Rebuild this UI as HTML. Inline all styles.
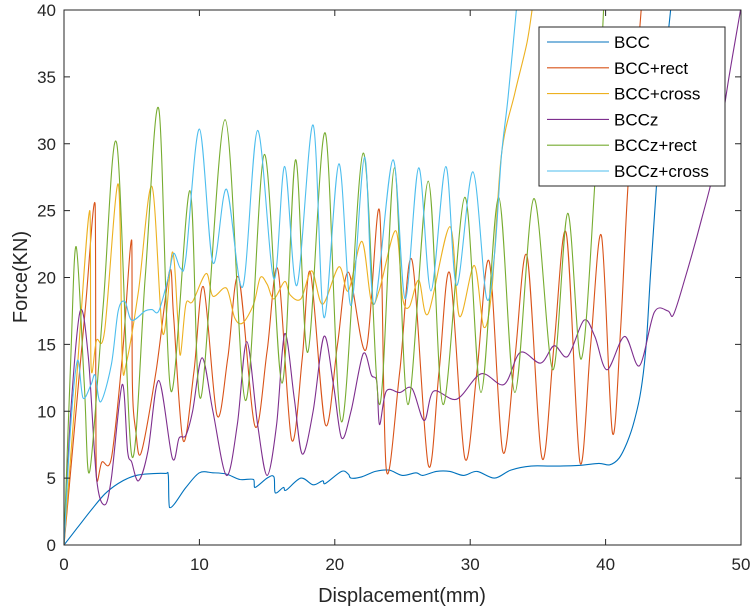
<!DOCTYPE html>
<html><head><meta charset="utf-8">
<style>
html,body{margin:0;padding:0;background:#fff;}
svg{display:block;font-family:"Liberation Sans",Arial,sans-serif;}
</style></head>
<body>
<svg id="s" width="755" height="612" viewBox="0 0 755 612" xmlns="http://www.w3.org/2000/svg">
<defs><clipPath id="c"><rect x="64" y="10" width="677" height="535"/></clipPath></defs>
<rect width="755" height="612" fill="#fff"/>
<g id="series" clip-path="url(#c)" fill="none" stroke-width="1.1"></g>
<rect x="64" y="10" width="677" height="535" fill="none" stroke="#262626" stroke-width="1"/>
<g id="ticks" stroke="#262626" stroke-width="1"></g>
<g id="labels" fill="#262626" font-size="17"></g>
<text x="402" y="602" font-size="20" fill="#262626" text-anchor="middle">Displacement(mm)</text>
<text transform="translate(27,277) rotate(-90)" font-size="20" fill="#262626" text-anchor="middle">Force(KN)</text>
<rect x="539" y="27" width="186" height="159" fill="#fff" stroke="#262626" stroke-width="1"/>
<g id="legend" font-size="17" fill="#000"></g>
</svg>
<script>
var X=function(x){return 64+x*13.54},Y=function(y){return 545-y*13.375};
var ns="http://www.w3.org/2000/svg";
function el(t,a,p,txt){var e=document.createElementNS(ns,t);for(var k in a)e.setAttribute(k,a[k]);if(txt!==undefined)e.textContent=txt;p.appendChild(e);return e;}
var tk=document.getElementById('ticks'),lb=document.getElementById('labels');
for(var i=0;i<=5;i++){var x=X(i*10);el('line',{x1:x,x2:x,y1:545,y2:539},tk);el('line',{x1:x,x2:x,y1:10,y2:16},tk);
 el('text',{x:x,y:570,'text-anchor':'middle'},lb,String(i*10));}
for(var i=0;i<=8;i++){var y=Y(i*5);el('line',{x1:64,x2:70,y1:y,y2:y},tk);el('line',{x1:741,x2:735,y1:y,y2:y},tk);
 el('text',{x:56,y:y+6,'text-anchor':'end'},lb,String(i*5));}
var S=[
["#0072BD","BCC",[[0,0],[1,1.3],[2,2.6],[3,3.8],[4,4.6],[5,5.1],[6,5.3],[7.5,5.35],[7.7,5.2],[7.8,2.8],[9,4.3],[10,5.4],[11,5.4],[12,5.3],[13,4.9],[14,4.9],[14.1,4.3],[15,5.0],[15.5,5.1],[15.6,3.9],[16.2,4.3],[16.4,4.1],[17.5,5.0],[18.4,4.5],[19.1,4.8],[19.3,4.6],[20.5,5.5],[21,5.3],[21.2,5.0],[22,5.1],[23,5.5],[24,5.6],[25,5.2],[26,5.4],[26.5,5.2],[27.5,5.5],[28.5,5.5],[29.5,5.2],[30.5,5.5],[31.8,5.0],[33,5.6],[34.5,5.9],[36,5.9],[38,5.95],[39.5,6.1],[40.3,6.0],[41,6.5],[41.6,7.7],[42.1,9.2],[42.6,11.5],[43,15],[43.3,20],[43.7,26],[44.1,32],[44.5,37],[44.9,41],[45.2,45]]],
["#D95319","BCC+rect",[[0,0],[0.8,9],[1.6,18],[2.3,25.5],[2.35,12],[2.4,5],[2.8,6.2],[3.5,6.5],[4.3,14],[5,22.8],[5.05,12],[5.3,8.5],[5.7,6.9],[6.8,13],[7.8,20.5],[8.1,17],[8.8,7.8],[9.6,13],[10.3,19.3],[11.3,9.7],[12.1,14],[12.9,20],[14.1,8.9],[15,14.5],[15.8,20.6],[16.8,7.9],[17.6,14],[18.2,20.4],[19.3,9],[20.2,15],[21,20.4],[22.3,14.6],[23.3,25],[23.8,5.65],[24.8,13],[25.7,21.3],[26.9,6],[27.7,13],[28.5,20.3],[29.6,6.5],[30.5,13],[31.4,21.2],[32.4,7],[33.3,14],[34.2,21.6],[35.3,6.5],[36.2,15],[37.1,23.3],[38.1,6.2],[38.9,15],[39.7,23.1],[40.5,8.4],[41.1,16],[41.6,26],[42.1,33],[42.7,41]]],
["#EDB120","BCC+cross",[[0,0],[0.9,12],[1.9,25],[2.0,13.3],[2.4,15.3],[3,16],[4,27],[4.3,14],[4.6,13.6],[5.5,19],[6.5,26.8],[7.3,15.8],[8,21.9],[8.4,17],[8.6,14.2],[9,18],[9.5,18.2],[10.5,20.3],[11,18.6],[12,19.2],[12.6,17],[13.2,16.6],[14,18],[14.5,20],[15,19.5],[15.5,18.4],[16.3,19.7],[16.7,18.7],[17.5,18.4],[18.3,20.5],[19.1,18],[20.3,20.8],[21,19],[22,22.7],[22.7,18.2],[23.3,19.1],[24.5,23.5],[25,18.5],[25.5,17.8],[26.2,19.8],[26.9,17.3],[28.5,23.8],[29.2,17.1],[30.3,20.9],[31,16.3],[31.6,19.1],[32.3,29.1],[33.3,33.8],[34.2,37.6],[34.7,41]]],
["#7E2F8E","BCCz",[[0,0],[0.5,10],[1.2,17.5],[1.8,14],[2.4,5],[3,3],[3.5,5],[4.3,12],[4.7,7],[5,6.2],[5.5,4.8],[6.2,7],[7,12.3],[8,6.5],[8.5,8],[9,8.2],[9.5,10],[10.2,14],[11,10],[12,5.2],[12.8,9],[13.5,15.2],[14.3,9],[15,5.2],[15.7,9],[16.3,15.8],[17,11],[17.6,6.8],[18.4,10],[19.2,15.6],[19.9,12],[20.5,8],[21.2,10],[22.1,14.3],[22.7,12.7],[23.1,12.2],[23.3,9],[23.8,11.5],[24.8,11.4],[25.7,11.7],[26.6,9.3],[27.3,11.5],[29,10.9],[30.8,12.8],[32.5,12],[33.7,14.4],[35.2,13.6],[36.2,14.9],[37.2,14.1],[38.4,16.8],[39.2,15.6],[40.1,13.1],[41.4,15.6],[42.5,13.4],[43.6,17.4],[44.6,17.5],[45,17.2],[45.8,19.7],[47.1,24.4],[48.1,28.5],[49.1,34.9],[50,40.2]]],
["#77AC30","BCCz+rect",[[0,0],[0.5,14],[0.9,22.3],[1.5,12],[1.9,5.5],[2.9,18],[3.9,30],[5,6.7],[6,20],[7,32.6],[7.9,11.5],[9.3,26.5],[10.1,11],[11.9,31.8],[13.4,10.8],[14.8,29.2],[16.1,12.1],[17.1,28.8],[18,14.4],[19.3,30.8],[20.5,9.2],[22.1,29.3],[23.3,10.5],[24.4,28.2],[25.4,10.5],[26.9,27.2],[28,10.5],[29.6,26],[30.8,11.4],[32.1,26],[33.3,11.4],[34.7,25.9],[36.1,13.1],[37.2,24.8],[38.2,13.9],[39.2,27],[39.9,41]]],
["#4DBEEE","BCCz+cross",[[0,0],[0.5,9],[1,13.8],[1.4,11],[2,12],[2.3,12.7],[2.7,10.7],[3.5,13.5],[4,17.5],[4.5,18.2],[5,16.8],[6,17.5],[6.5,17.6],[7,17.5],[7.7,20],[8.1,21.8],[8.6,20.7],[9,21.5],[10,31.1],[11,21.1],[12,26.6],[13.2,19.3],[14.3,31],[15.5,19.9],[16.3,28.3],[17.2,19.4],[18.4,31.4],[19.2,17],[20.3,28.5],[21.2,17.9],[22.2,29],[22.9,18],[24.3,28.8],[25.2,18.4],[26.2,28.2],[27.1,19],[28.2,28.3],[29,19.4],[30.2,27.9],[31.2,18.5],[31.8,21.8],[32.3,29],[32.8,33.5],[33.5,41]]]
];
var g=document.getElementById('series');
function path(p){p=p.map(function(q){return [X(q[0]),Y(q[1])]});var d="M"+p[0][0].toFixed(1)+","+p[0][1].toFixed(1);
 for(var i=0;i<p.length-1;i++){var a=p[i-1]||p[i],b=p[i],c=p[i+1],e=p[i+2]||c;var t=0.16;
  var c1x=b[0]+(c[0]-a[0])*t,c1y=b[1]+(c[1]-a[1])*t,c2x=c[0]-(e[0]-b[0])*t,c2y=c[1]-(e[1]-b[1])*t;
  c1x=Math.min(Math.max(c1x,b[0]),c[0]);c2x=Math.min(Math.max(c2x,b[0]),c[0]);
  d+="C"+c1x.toFixed(1)+","+c1y.toFixed(1)+" "+c2x.toFixed(1)+","+c2y.toFixed(1)+" "+c[0].toFixed(1)+","+c[1].toFixed(1);}
 return d;}
var lg=document.getElementById('legend');
S.forEach(function(s,i){el('path',{d:path(s[2]),stroke:s[0]},g);
 var y=42+i*25.8;el('line',{x1:547,x2:609,y1:y,y2:y,stroke:s[0],'stroke-width':1.1},lg);
 el('text',{x:614,y:y+6},lg,s[1]);});
</script>
</body></html>
